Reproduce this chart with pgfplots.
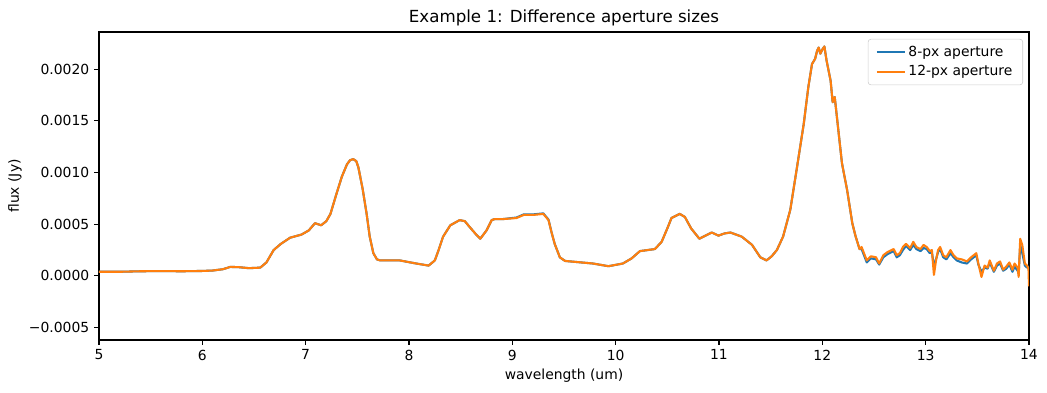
\documentclass[border=0pt]{standalone}
\usepackage{fontspec}
\setmainfont{DejaVu Sans}
\usepackage{pgfplots}
\pgfplotsset{compat=1.18}
\usepackage{pgfplotstable}
\definecolor{mplblue}{HTML}{1F77B4}
\definecolor{mplorange}{HTML}{FF7F0E}

\pgfplotstableread{
x y
5.00 0.000040
5.20 0.000040
5.40 0.000045
5.60 0.000047
5.80 0.000045
6.00 0.000048
6.10 0.000052
6.20 0.000065
6.27 0.000087
6.35 0.000085
6.45 0.000075
6.56 0.000080
6.62 0.00013
6.69 0.00025
6.76 0.00031
6.85 0.00037
6.96 0.00040
7.03 0.00044
7.09 0.00051
7.15 0.00049
7.20 0.00053
7.24 0.00060
7.30 0.00080
7.35 0.00096
7.40 0.00108
7.43 0.00112
7.46 0.00113
7.49 0.00111
7.51 0.00105
7.55 0.00085
7.59 0.00060
7.62 0.00038
7.655 0.00022
7.69 0.00016
7.72 0.00015
7.91 0.00015
8.07 0.00012
8.19 0.00010
8.25 0.00015
8.29 0.00026
8.33 0.00038
8.40 0.00049
8.49 0.00054
8.54 0.00053
8.59 0.00047
8.65 0.00040
8.69 0.00036
8.75 0.00044
8.80 0.00054
8.83 0.00055
8.91 0.00055
9.04 0.00056
9.11 0.00059
9.20 0.00059
9.30 0.00060
9.35 0.00054
9.38 0.00042
9.41 0.00031
9.46 0.00018
9.51 0.000145
9.78 0.00012
9.93 0.000094
10.07 0.00012
10.155 0.00017
10.235 0.00024
10.38 0.00026
10.445 0.00033
10.50 0.00046
10.54 0.00056
10.62 0.00060
10.67 0.00057
10.73 0.00046
10.81 0.00036
10.87 0.00039
10.93 0.00042
10.995 0.00039
11.05 0.00041
11.11 0.00042
11.22 0.00038
11.32 0.00030
11.36 0.00024
11.40 0.00018
11.46 0.00015
11.51 0.00019
11.56 0.00025
11.62 0.00038
11.69 0.00064
11.75 0.00102
11.82 0.00147
11.865 0.00183
11.90 0.00205
11.93 0.00210
11.95 0.00218
11.965 0.00221
11.98 0.00215
12.00 0.00219
12.02 0.00222
12.04 0.00209
12.08 0.00189
12.10 0.00168
12.11 0.00172
12.12 0.00173
12.155 0.00141
12.19 0.00109
12.24 0.00083
12.29 0.00051
12.32 0.00039
12.36 0.00026
12.38 0.00028
12.43 0.00015
12.47 0.00019
12.52 0.00018
12.55 0.00012
12.59 0.00020
12.63 0.00023
12.69 0.00026
12.72 0.00020
12.75 0.00022
12.78 0.00028
12.81 0.00031
12.85 0.00027
12.88 0.00033
12.91 0.00028
12.95 0.00026
12.98 0.00030
13.01 0.00028
13.04 0.00024
13.06 0.00025
13.08 0.00001
13.10 0.00015
13.12 0.00025
13.14 0.00028
13.17 0.00020
13.20 0.00018
13.24 0.00025
13.27 0.00020
13.30 0.00017
13.35 0.00016
13.40 0.00014
13.44 0.00018
13.49 0.00022
13.51 0.00012
13.54 -0.00001
13.57 0.00010
13.60 0.00008
13.62 0.00015
13.66 0.00005
13.69 0.00012
13.72 0.00014
13.75 0.00006
13.78 0.00009
13.81 0.00013
13.84 0.00006
13.86 0.00012
13.89 0.00008
13.90 -0.00001
13.915 0.00036
13.935 0.00030
13.96 0.00012
13.98 0.00010
13.995 0.00007
14.00 -0.00010
}\orange

\pgfplotstableread{
x y
5.00 0.000040
5.20 0.000040
5.40 0.000045
5.60 0.000047
5.80 0.000045
6.00 0.000048
6.10 0.000052
6.20 0.000065
6.27 0.000087
6.35 0.000085
6.45 0.000075
6.56 0.000080
6.62 0.00013
6.69 0.00025
6.76 0.00031
6.85 0.00037
6.96 0.00040
7.03 0.00044
7.09 0.00051
7.15 0.00049
7.20 0.00053
7.24 0.00060
7.30 0.00080
7.35 0.00096
7.40 0.00108
7.43 0.00112
7.46 0.00113
7.49 0.00111
7.51 0.00105
7.55 0.00085
7.59 0.00060
7.62 0.00038
7.655 0.00022
7.69 0.00016
7.72 0.00015
7.91 0.00015
8.07 0.00012
8.19 0.00010
8.25 0.00015
8.29 0.00026
8.33 0.00038
8.40 0.00049
8.49 0.00054
8.54 0.00053
8.59 0.00047
8.65 0.00040
8.69 0.00036
8.75 0.00044
8.80 0.00054
8.83 0.00055
8.91 0.00055
9.04 0.000565
9.11 0.000595
9.20 0.000595
9.30 0.000605
9.35 0.000545
9.38 0.00042
9.41 0.00031
9.46 0.00018
9.51 0.000145
9.78 0.00012
9.93 0.000094
10.07 0.00012
10.155 0.00017
10.235 0.00024
10.38 0.00026
10.445 0.00033
10.50 0.00046
10.54 0.00056
10.62 0.00060
10.67 0.00057
10.73 0.00046
10.81 0.00036
10.87 0.00039
10.93 0.00042
10.995 0.00039
11.05 0.00041
11.11 0.00042
11.22 0.00038
11.32 0.00030
11.36 0.00024
11.40 0.00018
11.46 0.00015
11.51 0.00019
11.56 0.00025
11.62 0.00038
11.69 0.00064
11.75 0.00102
11.82 0.00147
11.865 0.00183
11.90 0.00205
11.93 0.00210
11.95 0.00218
11.965 0.00221
11.98 0.00215
12.00 0.00219
12.02 0.00222
12.04 0.00209
12.08 0.00189
12.10 0.00168
12.11 0.00172
12.12 0.00173
12.155 0.00141
12.19 0.00109
12.24 0.00083
12.29 0.00051
12.32 0.00039
12.36 0.00026
12.38 0.00026
12.43 0.00013
12.47 0.00017
12.52 0.00016
12.55 0.00011
12.59 0.00018
12.63 0.00021
12.69 0.00024
12.72 0.00018
12.75 0.00020
12.78 0.00025
12.81 0.00029
12.85 0.00025
12.88 0.00030
12.91 0.00026
12.95 0.00024
12.98 0.00027
13.01 0.00026
13.04 0.00022
13.06 0.00023
13.08 0.00010
13.10 0.00016
13.12 0.00023
13.14 0.00026
13.17 0.00018
13.20 0.00016
13.24 0.00022
13.27 0.00018
13.30 0.00015
13.35 0.00013
13.40 0.00012
13.44 0.00016
13.49 0.00020
13.51 0.00011
13.54 0.00004
13.57 0.00008
13.60 0.00007
13.62 0.00013
13.66 0.00004
13.69 0.00010
13.72 0.00012
13.75 0.00005
13.78 0.00007
13.81 0.00011
13.84 0.00004
13.86 0.00009
13.89 0.00005
13.90 0.00002
13.915 0.00030
13.935 0.00022
13.96 0.00010
13.98 0.00008
13.995 0.00009
14.00 0.00006
}\blue

\begin{document}
\begin{tikzpicture}
\begin{axis}[
  at={(0,0)}, anchor=south west,
  scale only axis,
  width=669.6pt, height=221.76pt,
  xmin=5, xmax=14,
  ymin=-0.00062, ymax=0.00236,
  axis line style={line width=0.8pt},
  tick align=outside,
  tick pos=left,
  major tick length=3.5pt,
  tick style={line width=0.8pt, black},
  xtick={5,6,...,14},
  ytick={-0.0005,0,0.0005,0.001,0.0015,0.002},
  yticklabels={−0.0005,0.0000,0.0005,0.0010,0.0015,0.0020},
  scaled y ticks=false,
  /pgf/number format/assume math mode=true,
  xticklabel style={font=\fontsize{10}{12}\selectfont},
  yticklabel style={font=\fontsize{10}{12}\selectfont},
  xlabel={wavelength (um)},
  ylabel={flux (Jy)},
  xlabel style={at={(axis description cs:0.5,0)}, anchor=center, yshift=-26pt},
  ylabel style={at={(axis description cs:-0.0904,0.5)}, anchor=center},
  title={Example 1: Difference aperture sizes},
  title style={at={(axis description cs:0.5,1)}, anchor=center, yshift=4pt, font=\fontsize{12}{14}\selectfont},
  legend style={at={(axis description cs:1,1)}, anchor=north east, xshift=-4.3pt, yshift=-5pt,
    draw=black!20, rounded corners=2pt, font=\fontsize{10}{12}\selectfont,
    row sep=1pt, inner xsep=5.5pt, inner ysep=3pt},
  legend cell align=left,
  legend image code/.code={\draw[#1, line width=1.5pt] (0pt,0pt) -- (20pt,0pt);},
]
\addplot[mplblue, line width=1.5pt, line join=round] table[x=x,y=y]{\blue};
\addlegendentry{8-px aperture}
\addplot[mplorange, line width=1.5pt, line join=round] table[x=x,y=y]{\orange};
\addlegendentry{12-px aperture}
\end{axis}
\pgfresetboundingbox
\path[use as bounding box] (-71.28pt,-38.16pt) rectangle (682.56pt,244.8pt);
\end{tikzpicture}
\end{document}
